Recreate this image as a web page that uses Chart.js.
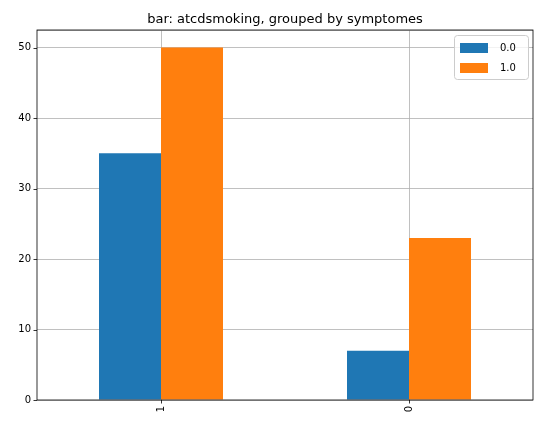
<!DOCTYPE html>
<html><head><meta charset="utf-8">
<script src="https://cdn.jsdelivr.net/npm/chart.js@4"></script>
<style>html,body{margin:0;padding:0;background:#fff}#w{width:546px;height:428px}</style>
</head><body><div id="w"><canvas id="c"></canvas></div>
<script>
const categories = ["1", "0"];
const series0 = [35, 7];
const series1 = [50, 23];
const seriesLabels = ["0.0", "1.0"];
const yTicks = [0, 10, 20, 30, 40, 50];
const titleText = "bar: atcdsmoking, grouped by symptomes";

const F = "'DejaVu Sans', sans-serif";
const deco = {
  id: 'deco',
  afterDraw(ch) {
    const ctx = ch.ctx, a = ch.chartArea;
    ctx.save();
    // frame
    ctx.strokeStyle = '#000'; ctx.lineWidth = 0.8;
    ctx.strokeRect(a.left, a.top, a.right - a.left, a.bottom - a.top);
    // ticks
    const ys = ch.scales.y, xs = ch.scales.x;
    ctx.beginPath();
    yTicks.forEach(v => { const y = Math.round(ys.getPixelForValue(v)) + 0.5; ctx.moveTo(a.left - 3.5, y); ctx.lineTo(a.left, y); });
    categories.forEach((c, i) => { const x = Math.round(xs.getPixelForValue(i)) + 0.5; ctx.moveTo(x, a.bottom); ctx.lineTo(x, a.bottom + 3.5); });
    ctx.stroke();
    // title
    ctx.fillStyle = '#000'; ctx.font = '13px ' + F; ctx.textAlign = 'center'; ctx.textBaseline = 'alphabetic';
    ctx.fillText(titleText, (a.left + a.right) / 2, a.top - 7);
    // legend
    const lw = 74, lh = 44, lx = a.right - lw - 5, ly = a.top + 5;
    ctx.fillStyle = 'rgba(255,255,255,0.8)'; ctx.strokeStyle = '#ccc'; ctx.lineWidth = 1;
    ctx.beginPath(); ctx.roundRect(lx + 0.5, ly + 0.5, lw, lh, 3); ctx.fill(); ctx.stroke();
    ch.data.datasets.forEach((d, i) => {
      const yy = ly + 8 + i * 20;
      ctx.fillStyle = d.backgroundColor; ctx.fillRect(lx + 6, yy, 28, 10);
      ctx.fillStyle = '#000'; ctx.font = '10px ' + F; ctx.textAlign = 'left'; ctx.textBaseline = 'middle';
      ctx.fillText(d.label, lx + 46, yy + 5);
    });
    ctx.restore();
  }
};
new Chart(document.getElementById('c'), {
  type: 'bar',
  data: { labels: categories, datasets: [
    { label: seriesLabels[0], data: series0, backgroundColor: '#1f77b4' },
    { label: seriesLabels[1], data: series1, backgroundColor: '#ff7f0e' }
  ]},
  options: {
    responsive: true, maintainAspectRatio: false, animation: false,
    layout: { padding: { left: 0, right: 13, top: 30, bottom: 0 } },
    datasets: { bar: { categoryPercentage: 0.5, barPercentage: 1 } },
    plugins: { legend: { display: false }, title: { display: false }, tooltip: { enabled: false } },
    scales: {
      x: { grid: { color: '#b0b0b0', lineWidth: 0.8, drawTicks: false, offset: false }, border: { display: false },
        ticks: { color: '#000', font: { family: F, size: 10 }, maxRotation: 90, minRotation: 90, padding: 6 },
        afterFit(s) { s.height = 28; } },
      y: { min: 0, max: 52.5, grid: { color: '#b0b0b0', lineWidth: 0.8, drawTicks: false }, border: { display: false },
        ticks: { color: '#000', font: { family: F, size: 10 }, stepSize: 10, padding: 6,
          callback: v => yTicks.includes(v) ? v : '' },
        afterFit(s) { s.width = 37; } }
    }
  },
  plugins: [deco]
});
</script></body></html>
